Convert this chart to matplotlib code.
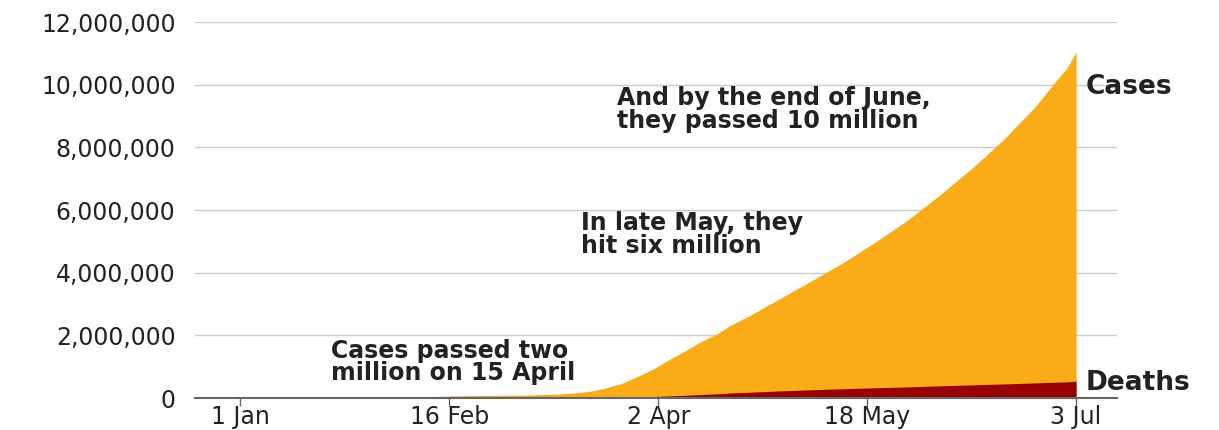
import pandas as pd
import matplotlib.pyplot as plt
from matplotlib.ticker import FuncFormatter

# cumulative global totals (approx)
dates = pd.to_datetime([
    '2020-01-22', '2020-01-29', '2020-02-05', '2020-02-12', '2020-02-19',
    '2020-02-26', '2020-03-04', '2020-03-11', '2020-03-14', '2020-03-18',
    '2020-03-21', '2020-03-25', '2020-03-28', '2020-04-01', '2020-04-04',
    '2020-04-08', '2020-04-11', '2020-04-15', '2020-04-18', '2020-04-22',
    '2020-04-29', '2020-05-06', '2020-05-13', '2020-05-20', '2020-05-27',
    '2020-06-03', '2020-06-10', '2020-06-17', '2020-06-24', '2020-06-28',
    '2020-07-01', '2020-07-03',
])
cases = [555, 6166, 28276, 45171, 75641,
         81400, 93090, 126000, 156000, 214000,
         305000, 467000, 660000, 932000, 1197000,
         1511000, 1772000, 2056000, 2330000, 2623000,
         3193000, 3762000, 4347000, 4997000, 5690000,
         6481000, 7328000, 8247000, 9297000, 10020000,
         10533000, 11050000]
deaths = [17, 133, 565, 1116, 2122,
          2770, 3200, 4600, 5800, 8700,
          13000, 21200, 31000, 47000, 64000,
          88000, 108000, 134000, 160000, 184000,
          228000, 264000, 297000, 328000, 355000,
          389000, 418000, 449000, 482000, 502000,
          516000, 540000]

tick_dates = pd.to_datetime(['2020-01-01', '2020-02-16', '2020-04-02', '2020-05-18', '2020-07-03'])
tick_labels = ['1 Jan', '16 Feb', '2 Apr', '18 May', '3 Jul']
y_ticks = [0, 2e6, 4e6, 6e6, 8e6, 10e6, 12e6]

plt.rcParams['font.family'] = ['DejaVu Sans']

fig = plt.figure(figsize=(12.19, 4.30), dpi=100)
ax = fig.add_axes([0.16, 0.0744, 0.7563, 0.8744])

ax.fill_between(dates, 0, cases, color='#FAAB18', linewidth=0)
ax.fill_between(dates, 0, deaths, color='#990000', linewidth=0)

ax.set_xlim(pd.Timestamp('2019-12-22'), pd.Timestamp('2020-07-12'))
ax.set_ylim(0, 12e6)

ax.set_yticks(y_ticks)
ax.yaxis.set_major_formatter(FuncFormatter(lambda v, p: f'{int(v):,}'))
ax.set_xticks(tick_dates)
ax.set_xticklabels(tick_labels)

ax.grid(axis='y', color='#cbcbcb', linewidth=1)
ax.set_axisbelow(True)
for s in ['top', 'right', 'left']:
    ax.spines[s].set_visible(False)
ax.spines['bottom'].set_color('#666666')
ax.spines['bottom'].set_linewidth(1.5)
ax.spines['bottom'].set_zorder(5)

ax.tick_params(axis='y', length=0, pad=14, labelsize=17, labelcolor='#222222')
ax.tick_params(axis='x', length=6, width=1, color='#666666', pad=-1, labelsize=17, labelcolor='#222222')

txt = dict(fontsize=17, fontweight='bold', color='#222222', ha='left', va='center', linespacing=0.92)
ax.text(pd.Timestamp('2020-01-21'), 1.15e6, 'Cases passed two\nmillion on 15 April', **txt)
ax.text(pd.Timestamp('2020-03-16'), 5.22e6, 'In late May, they\nhit six million', **txt)
ax.text(pd.Timestamp('2020-03-24'), 9.21e6, 'And by the end of June,\nthey passed 10 million', **txt)

lab = dict(fontsize=19, fontweight='bold', color='#222222', ha='left', va='center')
ax.text(pd.Timestamp('2020-07-05'), 9.93e6, 'Cases', clip_on=False, **lab)
ax.text(pd.Timestamp('2020-07-05'), 0.48e6, 'Deaths', clip_on=False, **lab)

plt.savefig('out.png', dpi=100)
